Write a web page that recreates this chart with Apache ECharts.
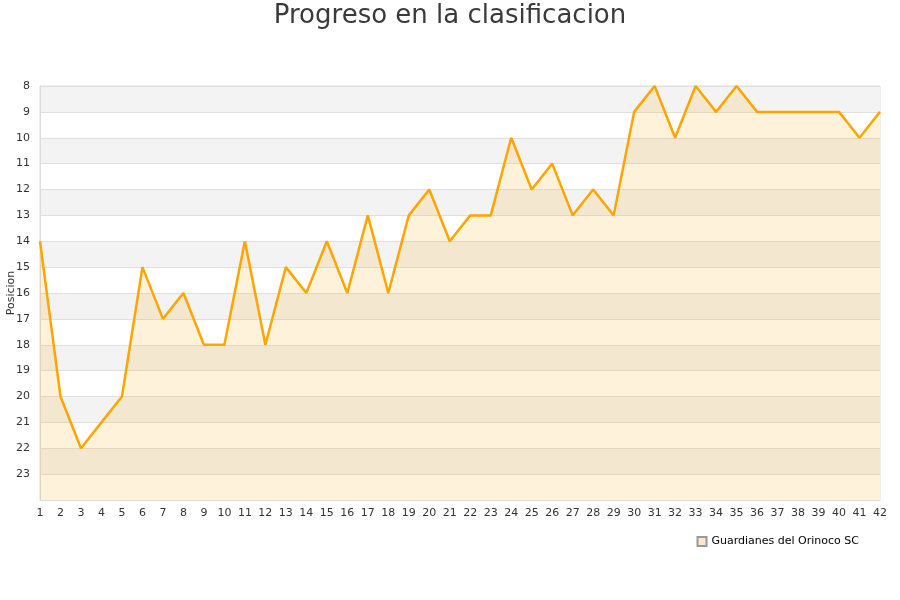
<!DOCTYPE html>
<html><head><meta charset="utf-8">
<script src="https://cdn.jsdelivr.net/npm/echarts@6/dist/echarts.min.js"></script>
<style>html,body{margin:0;padding:0;background:#fff}#c{width:900px;height:600px}</style>
</head><body><div id="c"></div>
<script>
const jornadas = Array.from({length:42},(_,i)=>String(i+1));
const posiciones = [14,20,22,21,20,15,17,16,18,18,14,18,15,16,14,16,13,16,13,12,14,13,13,10,12,11,13,12,13,9,8,10,8,9,8,9,9,9,9,9,10,9];
const equipo = 'Guardianes del Orinoco SC';
const chart = echarts.init(document.getElementById('c'));
chart.setOption({
  animation:false,
  title:{text:'Progreso en la clasificacion',left:'center',top:-2,textStyle:{fontFamily:'DejaVu Sans',fontSize:26,fontWeight:'normal',color:'#3a3a3a'}},
  grid:{left:40,right:20,top:86,bottom:100,show:true,borderColor:'#ddd',borderWidth:1,containLabel:false,outerBoundsMode:'none'},
  legend:{data:[{name:equipo,icon:'rect'}],right:36,top:531,itemWidth:9,itemHeight:9,
    textStyle:{fontFamily:'DejaVu Sans',fontSize:11,color:'#000'}},
  xAxis:{type:'category',data:jornadas,boundaryGap:false,
    axisLine:{show:true,lineStyle:{color:'#ddd'}},axisTick:{show:false},
    axisLabel:{interval:0,color:'#333',fontFamily:'DejaVu Sans',fontSize:11,margin:8},
    splitLine:{show:false}},
  yAxis:{type:'value',inverse:true,min:8,max:24,interval:1,
    name:'Posicion',nameLocation:'middle',nameGap:23,nameMoveOverlap:false,nameTextStyle:{fontFamily:'DejaVu Sans',fontSize:11,color:'#333'},
    axisLine:{show:true,lineStyle:{color:'#ddd'}},axisTick:{show:false},
    axisLabel:{color:'#333',fontFamily:'DejaVu Sans',fontSize:11,margin:10,
      formatter:v=>v>=24?'':String(v)},
    splitLine:{show:true,lineStyle:{color:'#e0e0e0'}},
    splitArea:{show:true,areaStyle:{color:['#f3f3f3','#ffffff']}}},
  series:[{name:equipo,type:'line',data:posiciones,symbol:'none',
    lineStyle:{color:'#ffa500',width:2.5},itemStyle:{color:'#fde9c4',borderColor:'#999',borderWidth:1},
    areaStyle:{color:'rgba(255,165,0,0.2)',origin:'end'}}]
});
</script></body></html>
